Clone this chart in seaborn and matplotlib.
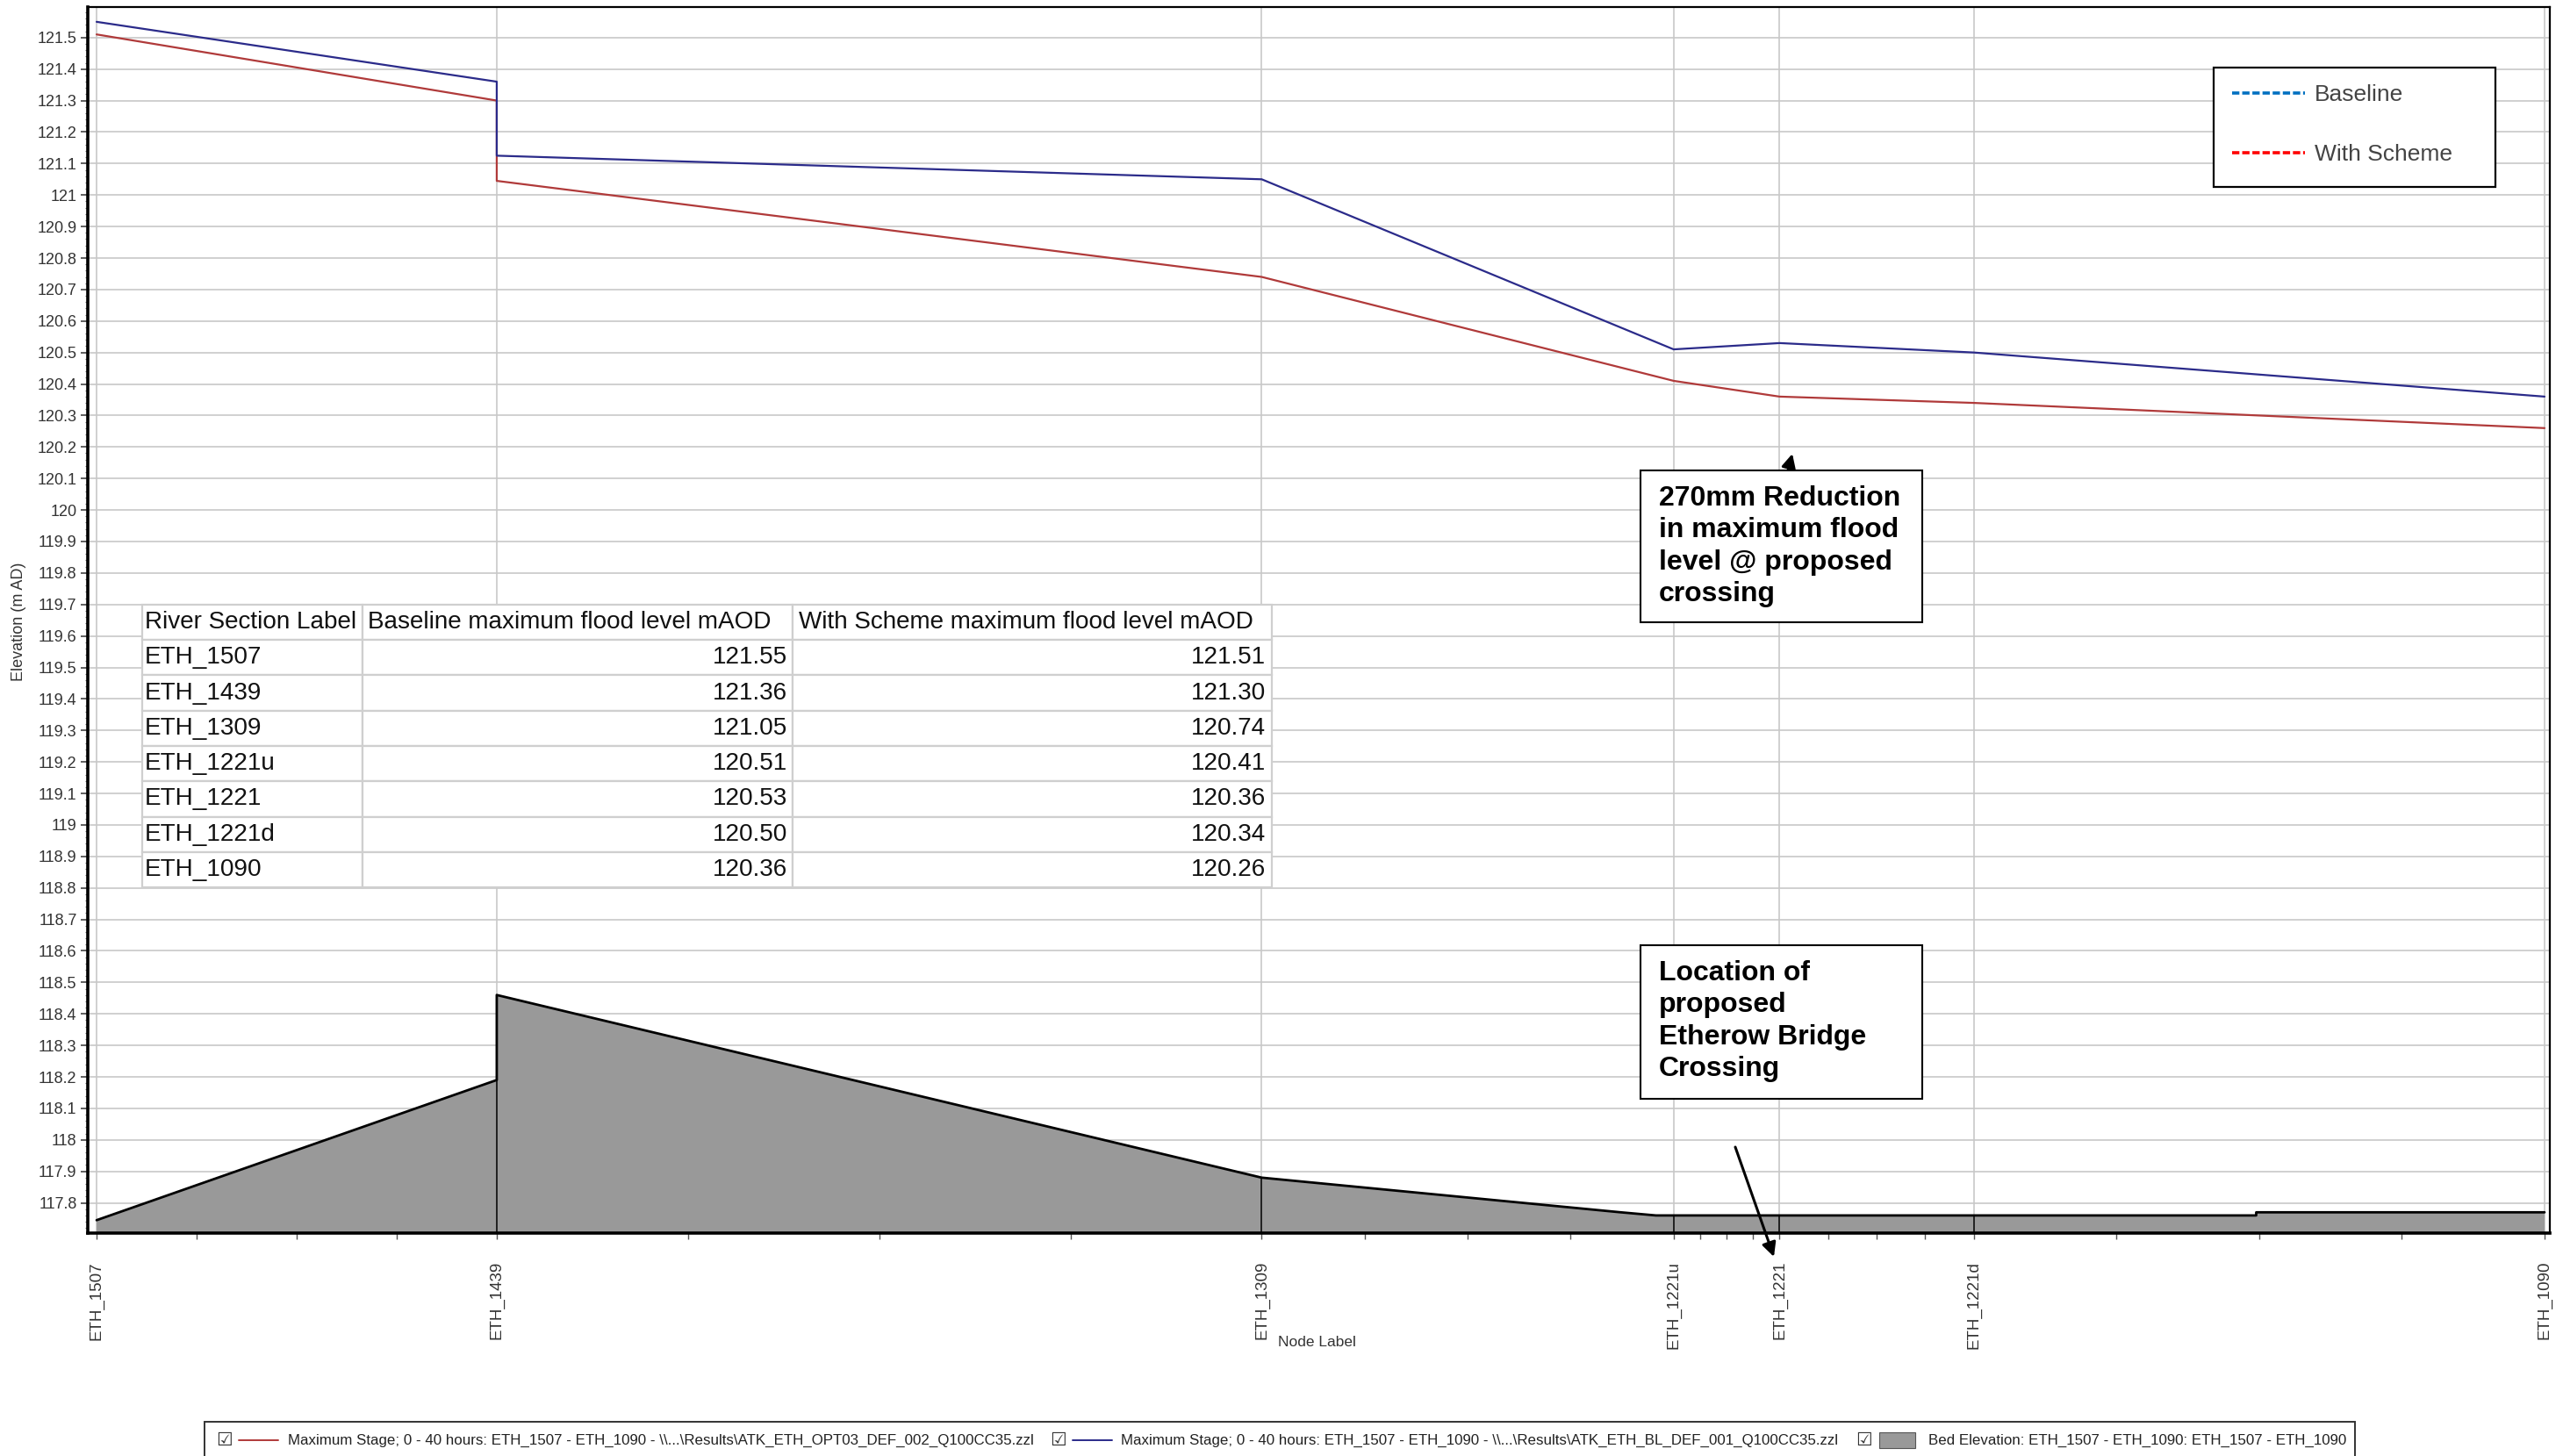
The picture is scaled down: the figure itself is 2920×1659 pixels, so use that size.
import numpy as np
import pandas as pd
import seaborn as sns
import matplotlib
matplotlib.use("Agg")
import matplotlib.pyplot as plt
from matplotlib import font_manager as fm
from matplotlib.patches import Rectangle
from matplotlib.lines import Line2D
from matplotlib.ticker import FixedLocator, FuncFormatter, MultipleLocator

# ---------------- data ----------------
node_labels = ["ETH_1507", "ETH_1439", "ETH_1309", "ETH_1221u", "ETH_1221", "ETH_1221d", "ETH_1090"]
node_chainage = [0, 68, 198, 268, 286, 319, 416]

profile_chainage = [0, 68, 68, 198, 268, 286, 319, 416]
baseline_stage = [121.55, 121.36, 121.125, 121.05, 120.51, 120.53, 120.50, 120.36]
scheme_stage = [121.51, 121.30, 121.045, 120.74, 120.41, 120.36, 120.34, 120.26]

bed_chainage = [0, 68, 68, 198, 259, 265, 367, 367, 416]
bed_level = [117.745, 118.19, 118.46, 117.88, 117.77, 117.76, 117.76, 117.77, 117.77]

table_baseline = [121.55, 121.36, 121.05, 120.51, 120.53, 120.50, 120.36]
table_scheme = [121.51, 121.30, 120.74, 120.41, 120.36, 120.34, 120.26]
table_header = ["River Section Label", "Baseline maximum flood level mAOD",
                "With Scheme maximum flood level mAOD"]

legend_labels = ["Baseline", "With Scheme"]
bottom_labels = [
    r"Maximum Stage; 0 - 40 hours: ETH_1507 - ETH_1090 - \\...\Results\ATK_ETH_OPT03_DEF_002_Q100CC35.zzl",
    r"Maximum Stage; 0 - 40 hours: ETH_1507 - ETH_1090 - \\...\Results\ATK_ETH_BL_DEF_001_Q100CC35.zzl",
    "Bed Elevation: ETH_1507 - ETH_1090: ETH_1507 - ETH_1090",
]
note_reduction = "270mm Reduction\nin maximum flood\nlevel @ proposed\ncrossing"
note_location = "Location of\nproposed\nEtherow Bridge\nCrossing"

# ---------------- style ----------------
sns.set_theme(style="white")
names = {f.name for f in fm.fontManager.ttflist}
MAIN = "Liberation Sans" if "Liberation Sans" in names else "DejaVu Sans"
NARROW = "Liberation Sans Narrow" if "Liberation Sans Narrow" in names else MAIN
plt.rcParams["font.family"] = [MAIN, "DejaVu Sans"]

W, H = 2920, 1659
fig = plt.figure(figsize=(W / 100, H / 100), dpi=100)
fig.patch.set_facecolor("white")

def fx(px):
    return px / W

def fy(py):
    return 1 - py / H

ax = fig.add_axes([fx(100), fy(1405), fx(2805), 1397 / H])
ax.set_facecolor("white")

ymin, ymax = 117.704, 121.597
ax.set_xlim(-1.5, 416.9)
ax.set_ylim(ymin, ymax)

# grid
ax.set_axisbelow(True)
ax.grid(True, which="major", color="#C8C8C8", lw=1.2)

# bed elevation
ax.fill_between(bed_chainage, bed_level, ymin, facecolor="#999999", edgecolor="none", zorder=2)
ax.plot(bed_chainage, bed_level, color="black", lw=2.0, zorder=3)
tops = []
for c in node_chainage[1:-1]:
    same = [z for x, z in zip(bed_chainage, bed_level) if x == c]
    tops.append(max(same) if same else float(np.interp(c, bed_chainage, bed_level)))
ax.vlines(node_chainage[1:-1], ymin, tops, color="black", lw=1.1, zorder=3)

# stage lines
df = pd.DataFrame({
    "chainage": profile_chainage * 2,
    "stage": scheme_stage + baseline_stage,
    "series": ["With Scheme"] * len(scheme_stage) + ["Baseline"] * len(baseline_stage),
})
sns.lineplot(data=df, x="chainage", y="stage", hue="series",
             palette={"With Scheme": "#B03A3A", "Baseline": "#2B2B8A"},
             estimator=None, sort=False, lw=1.6, legend=False, ax=ax, zorder=4)
ax.set_xlabel("")
ax.set_ylabel("")

# ticks
ax.yaxis.set_major_locator(FixedLocator(np.round(np.arange(117.8, 121.55, 0.1), 1)))
ax.yaxis.set_major_formatter(FuncFormatter(lambda v, p: f"{v:g}"))
ax.yaxis.set_minor_locator(MultipleLocator(0.02))
ax.tick_params(axis="y", which="major", left=True, length=6, width=1.2, color="#444444",
               labelsize=13, labelcolor="#333333", pad=3)
ax.tick_params(axis="y", which="minor", left=True, length=2.5, width=0.8, color="#777777")
ax.set_xticks(node_chainage)
ax.set_xticklabels(node_labels, rotation=90, fontsize=13.5, color="#333333")
minor_x = np.concatenate([np.linspace(a, b, 5)[1:-1] for a, b in zip(node_chainage[:-1], node_chainage[1:])])
ax.xaxis.set_minor_locator(FixedLocator(minor_x))
ax.tick_params(axis="x", which="major", bottom=True, length=5, width=1.0, color="#555555", pad=18)
ax.tick_params(axis="x", which="minor", bottom=True, length=5, width=1.0, color="#555555")

for s in ["left", "bottom"]:
    ax.spines[s].set_linewidth(2.6)
    ax.spines[s].set_color("black")
for s in ["top", "right"]:
    ax.spines[s].set_linewidth(1.6)
    ax.spines[s].set_color("black")
    ax.spines[s].set_visible(True)

fig.text(fx(22), fy(708), "Elevation (m AD)", rotation=90, ha="center", va="center",
         fontsize=13, color="#333333")
fig.text(fx(1500), fy(1530), "Node Label", ha="center", va="center", fontsize=12.5, color="#333333")

fig.canvas.draw()
renderer = fig.canvas.get_renderer()

def fit_size(s, target_w, family, weight="normal", size0=12.0):
    t = fig.text(0, 0, s, fontsize=size0, family=family, weight=weight)
    w = t.get_window_extent(renderer).width
    t.remove()
    return size0 * target_w / w

# ---------------- table ----------------
cell_text = [[lab, f"{b:.2f}", f"{s:.2f}"] for lab, b, s in zip(node_labels, table_baseline, table_scheme)]
col_px = [251, 490, 546]
tot = sum(col_px)
tx0, tx1 = (162 - 100) / 2805, (1449 - 100) / 2805
ty0, ty1 = (1405 - 1011) / 1397, (1405 - 689) / 1397
tbl = ax.table(cellText=cell_text, colLabels=table_header,
               colWidths=[c / tot for c in col_px],
               bbox=[tx0, ty0, tx1 - tx0, ty1 - ty0], zorder=5)
tbl.auto_set_font_size(False)
tsize = fit_size(table_header[2], 519, NARROW)
for (r, c), cell in tbl.get_celld().items():
    cell.set_edgecolor("#CFCFCF")
    cell.set_linewidth(1.6)
    cell.set_facecolor("white")
    cell.PAD = 0.012
    cell.get_text().set_fontsize(tsize)
    cell.get_text().set_family(NARROW)
    cell.get_text().set_color("#111111")
    if r == 0 or c == 0:
        cell.get_text().set_ha("left")
        cell._loc = "left"
    else:
        cell.get_text().set_ha("right")
        cell._loc = "right"

# ---------------- top-right legend ----------------
ax.add_patch(Rectangle((fx(2522), fy(213)), fx(321), 136 / H, transform=fig.transFigure,
                       facecolor="white", edgecolor="black", lw=1.6, zorder=5.5, clip_on=False))
handles = [Line2D([], [], color="#0070C0", lw=2.6, ls=(0, (2.3, 0.9))),
           Line2D([], [], color="#FF0000", lw=2.6, ls=(0, (2.3, 0.9)))]
leg = ax.legend(handles, legend_labels, loc="upper left",
                bbox_to_anchor=(fx(2543), fy(96)), bbox_transform=fig.transFigure,
                fontsize=19, handlelength=3.14, handletextpad=0.42,
                labelspacing=1.66, borderpad=0.0, borderaxespad=0.0,
                frameon=False, labelcolor="#444444")
leg.set_zorder(6)

# ---------------- annotation boxes ----------------
bold_size = fit_size("in maximum flood", 273, MAIN, weight="bold", size0=20)
for (x0, y0, x1, y1), txt, ty in [((1869, 536, 2190, 709), note_reduction, 553),
                                   ((1869, 1077, 2190, 1252), note_location, 1094)]:
    fig.patches.append(Rectangle((fx(x0), fy(y1)), fx(x1 - x0), (y1 - y0) / H,
                                 transform=fig.transFigure, facecolor="white",
                                 edgecolor="black", lw=1.5, zorder=6))
    fig.text(fx(1890), fy(ty), txt, ha="left", va="top", fontsize=bold_size,
             weight="bold", color="black", linespacing=1.28, zorder=7)

ax.annotate("", xy=(fx(2042), fy(517)), xytext=(fx(2023), fy(590)),
            xycoords="figure fraction", textcoords="figure fraction",
            arrowprops=dict(arrowstyle="-|>", color="black", lw=2.2, mutation_scale=24,
                            shrinkA=0, shrinkB=0),
            annotation_clip=False, zorder=8)
ax.annotate("", xy=(fx(2021), fy(1432)), xytext=(fx(1977), fy(1307)),
            xycoords="figure fraction", textcoords="figure fraction",
            arrowprops=dict(arrowstyle="-|>", color="black", lw=2.2, mutation_scale=24,
                            shrinkA=0, shrinkB=0),
            annotation_clip=False, zorder=8)

# ---------------- bottom legend bar ----------------
fig.patches.append(Rectangle((fx(233), fy(1662)), fx(2683 - 233), 42 / H,
                             transform=fig.transFigure, facecolor="white",
                             edgecolor="#333333", lw=1.4, zorder=1))
bl_size = fit_size(bottom_labels[2], 473, NARROW, size0=11)
items = [(255, "line", "#B03A3A", 328, bottom_labels[0]),
         (1205, "line", "#2B2B8A", 1277, bottom_labels[1]),
         (2123, "box", "#999999", 2197, bottom_labels[2])]
ycen = 1641
for cbx, kind, col, tx, lab in items:
    fig.text(fx(cbx), fy(ycen), "\u2611", ha="center", va="center", fontsize=15,
             family="DejaVu Sans", color="#333333")
    if kind == "line":
        fig.lines.append(Line2D([fx(cbx + 17), fx(cbx + 62)], [fy(ycen), fy(ycen)],
                                transform=fig.transFigure, color=col, lw=1.4))
    else:
        fig.patches.append(Rectangle((fx(cbx + 18), fy(ycen + 9)), fx(41), 18 / H,
                                     transform=fig.transFigure, facecolor=col,
                                     edgecolor="#555555", lw=0.8))
    fig.text(fx(tx), fy(ycen), lab, ha="left", va="center", fontsize=bl_size,
             family=NARROW, color="#222222")

fig.savefig("out.png", dpi=100, facecolor="white")
